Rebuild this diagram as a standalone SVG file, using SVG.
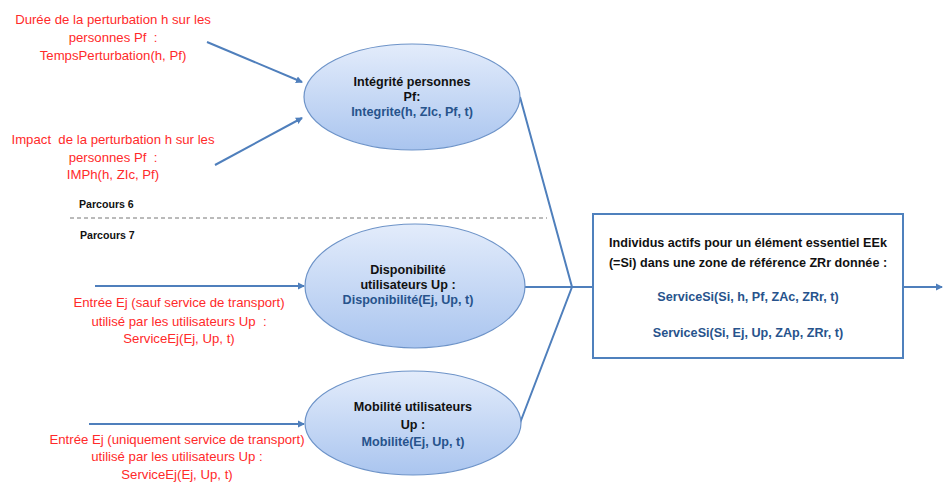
<svg xmlns="http://www.w3.org/2000/svg" width="943" height="483" viewBox="0 0 943 483">
<style>
.red{font-family:"Liberation Sans",Arial,sans-serif;font-size:13.2px;fill:#ff2a2a;text-anchor:middle;white-space:pre}
.blk{font-family:"Liberation Sans",Arial,sans-serif;font-size:12.6px;font-weight:bold;fill:#111;text-anchor:middle}
.blu{font-family:"Liberation Sans",Arial,sans-serif;font-size:12.6px;font-weight:bold;fill:#27538c;text-anchor:middle}
.par{font-family:"Liberation Sans",Arial,sans-serif;font-size:10.6px;font-weight:bold;fill:#111}
.ell{fill:url(#g);stroke:#6d93c8;stroke-width:1.2}
.con{stroke:#4f7fbc;stroke-width:2;fill:none}
</style>
<defs>
<linearGradient id="g" x1="0" y1="0" x2="0" y2="1">
<stop offset="0" stop-color="#e3ecfb"/>
<stop offset="1" stop-color="#aac5ef"/>
</linearGradient>
<marker id="ah" markerWidth="8" markerHeight="8" refX="6" refY="4" orient="auto" markerUnits="userSpaceOnUse">
<path d="M0,0.5 L7,4 L0,7.5 Z" fill="#4f7fbc"/>
</marker>
</defs>
<rect width="943" height="483" fill="#fff"/>
<g id="connectors">
<line class="con" x1="207" y1="42" x2="302" y2="82" marker-end="url(#ah)"/>
<line class="con" x1="215" y1="165" x2="302" y2="118" marker-end="url(#ah)"/>
<line class="con" x1="95" y1="286" x2="304" y2="286" marker-end="url(#ah)"/>
<line class="con" x1="89" y1="424" x2="304" y2="424" marker-end="url(#ah)"/>
<polyline class="con" points="520,97 572,287 520,423"/>
<line class="con" x1="525" y1="287" x2="593" y2="287"/>
<line class="con" x1="903" y1="287" x2="942" y2="287" marker-end="url(#ah)"/>
<line x1="70" y1="218" x2="547" y2="218" stroke="#777" stroke-width="1" stroke-dasharray="4,3"/>
</g>
<g id="n_duree">
<text class="red" x="113" y="24">Durée de la perturbation h sur les</text>
<text class="red" x="113" y="42">personnes Pf  :</text>
<text class="red" x="113" y="60">TempsPerturbation(h, Pf)</text>
</g>
<g id="n_impact">
<text class="red" x="113" y="144">Impact  de la perturbation h sur les</text>
<text class="red" x="113" y="162">personnes Pf  :</text>
<text class="red" x="113" y="179">IMPh(h, ZIc, Pf)</text>
</g>
<g id="n_parcours">
<text class="par" x="79" y="208">Parcours 6</text>
<text class="par" x="80" y="239">Parcours 7</text>
</g>
<g id="n_integrite">
<ellipse class="ell" cx="412" cy="97" rx="108" ry="53"/>
<text class="blk" x="412" y="86">Intégrité personnes</text>
<text class="blk" x="412" y="101">Pf:</text>
<text class="blu" x="412" y="116">Integrite(h, ZIc, Pf, t)</text>
</g>
<g id="n_dispo">
<ellipse class="ell" cx="415" cy="286" rx="110" ry="62"/>
<text class="blk" x="408" y="274">Disponibilité</text>
<text class="blk" x="408" y="289">utilisateurs Up :</text>
<text class="blu" x="408" y="304">Disponibilité(Ej, Up, t)</text>
</g>
<g id="n_mobilite">
<ellipse class="ell" cx="413" cy="423" rx="108" ry="52"/>
<text class="blk" x="413" y="411">Mobilité utilisateurs</text>
<text class="blk" x="413" y="429">Up :</text>
<text class="blu" x="413" y="446">Mobilité(Ej, Up, t)</text>
</g>
<g id="n_entree1">
<text class="red" x="179" y="307">Entrée Ej (sauf service de transport)</text>
<text class="red" x="179" y="326">utilisé par les utilisateurs Up  :</text>
<text class="red" x="179" y="343">ServiceEj(Ej, Up, t)</text>
</g>
<g id="n_entree2">
<text class="red" x="177" y="444">Entrée Ej (uniquement service de transport)</text>
<text class="red" x="177" y="461">utilisé par les utilisateurs Up :</text>
<text class="red" x="177" y="479">ServiceEj(Ej, Up, t)</text>
</g>
<g id="n_individus">
<rect x="593" y="214" width="310" height="144" fill="#fff" stroke="#4f81bd" stroke-width="2"/>
<text class="blk" x="748" y="247">Individus actifs pour un élément essentiel EEk</text>
<text class="blk" x="748" y="267">(=Si) dans une zone de référence ZRr donnée :</text>
<text class="blu" x="748" y="301">ServiceSi(Si, h, Pf, ZAc, ZRr, t)</text>
<text class="blu" x="748" y="337">ServiceSi(Si, Ej, Up, ZAp, ZRr, t)</text>
</g>
</svg>
